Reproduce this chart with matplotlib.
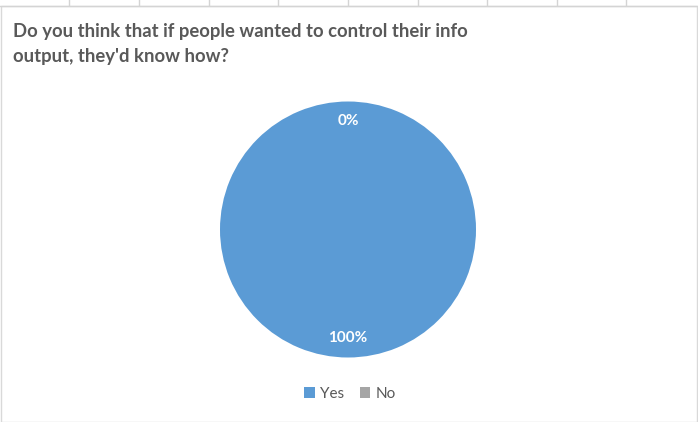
import matplotlib
matplotlib.use("Agg")
import matplotlib.pyplot as plt
from matplotlib.patches import Rectangle
from matplotlib.lines import Line2D

categories = ["Yes", "No"]
values = [100, 0]
colors = ["#5B9BD5", "#A5A5A5"]
title = "Do you think that if people wanted to control their info\noutput, they'd know how?"

W, H = 698, 422
fig = plt.figure(figsize=(W/100, H/100), dpi=100)
fig.patch.set_facecolor("white")

# spreadsheet gridlines behind chart (top strip)
for gx in [69, 139, 209, 278, 348, 418, 487, 557, 626]:
    fig.add_artist(Line2D([gx/W, gx/W], [1, 1-5/H], color="#d4d4d4", lw=1))
fig.add_artist(Line2D([0, 1], [1-5.5/H, 1-5.5/H], color="#d4d4d4", lw=1))
# chart border
fig.add_artist(Rectangle((0.5/W, 0), (W-1.5)/W, 1-6/H, fill=False, edgecolor="#d9d9d9", lw=1))

fig.text(13/W, 1-44/H, title, fontsize=13.3, fontweight="bold", color="#595959",
         family="Lato", va="center", ha="left", linespacing=1.6)

cx, cy, r = 348, 229.5, 128
ax = fig.add_axes([(cx-r)/W, 1-(cy+r)/H, 2*r/W, 2*r/H])
wedges, texts, autotexts = ax.pie(values, colors=colors, startangle=90, counterclock=False,
                                  autopct="%1.0f%%", pctdistance=0.85,
                                  wedgeprops=dict(linewidth=0),
                                  textprops=dict(color="white", fontsize=11, fontweight="bold", family="Lato"))
ax.set_xlim(-1, 1)
ax.set_ylim(-1, 1)
ax.set_aspect("equal")

handles = [Rectangle((0, 0), 1, 1, facecolor=c) for c in colors]
fig.legend(handles, categories, loc="center", bbox_to_anchor=(350/W, 1-394/H), ncol=2,
           frameon=False, handlelength=0.7, handleheight=0.7,
           handletextpad=0.35, columnspacing=1.0, labelcolor="#595959",
           prop=dict(family="Lato", size=11))

fig.savefig("out.png", dpi=100, facecolor="white")
